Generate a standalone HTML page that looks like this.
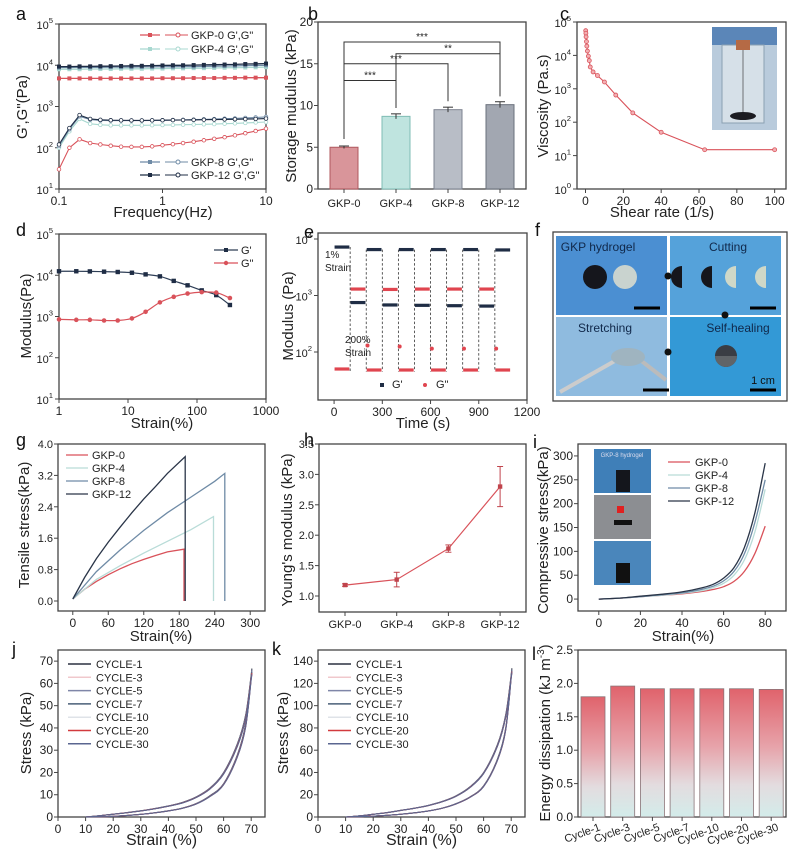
<!DOCTYPE html>
<html><head><meta charset="utf-8">
<style>
html,body{margin:0;padding:0;background:#fff;}
svg{display:block;font-family:"Liberation Sans",Arial,sans-serif;}
</style></head>
<body>
<svg id="fig" width="802" height="855" viewBox="0 0 802 855" xmlns="http://www.w3.org/2000/svg">
<defs>
<linearGradient id="lgrad" x1="0" y1="0" x2="0" y2="1">
<stop offset="0" stop-color="#e0636c"/><stop offset="0.45" stop-color="#e7a3aa"/><stop offset="0.75" stop-color="#e3dcdf"/><stop offset="1" stop-color="#d3ecea"/>
</linearGradient>
</defs>
</svg>
<script>
// ---------- DATA ----------
const aFreq=[0.1,0.126,0.158,0.2,0.251,0.316,0.398,0.501,0.631,0.794,1,1.26,1.58,2,2.51,3.16,3.98,5.01,6.31,7.94,10];
const aG0=[4800,4800,4800,4800,4800,4800,4800,4800,4800,4800,4850,4850,4850,4900,4900,4900,4950,4950,5000,5000,5000];
const aG4=[8000,8000,8000,8100,8100,8100,8200,8200,8200,8300,8300,8400,8400,8500,8500,8600,8700,8700,8800,8900,9000];
const aG8=[8800,8800,8900,8900,8900,9000,9000,9000,9100,9100,9200,9200,9300,9300,9400,9500,9600,9700,9800,9900,10000];
const aG12=[9300,9300,9400,9400,9500,9500,9600,9700,9700,9800,9900,10000,10000,10100,10200,10300,10400,10500,10700,10800,11000];
const aGG0=[30,100,160,130,120,112,106,105,105,108,115,122,130,140,152,165,180,200,225,255,290];
const aGG4=[100,250,500,380,360,350,350,350,350,352,355,358,362,366,370,375,382,390,400,410,420];
const aGG8=[110,280,580,480,460,455,455,455,455,458,462,468,474,480,488,496,505,515,528,542,560];
const aGG12=[120,300,620,500,475,465,462,460,460,462,465,468,470,474,478,482,486,490,495,500,510];
const bCats=["GKP-0","GKP-4","GKP-8","GKP-12"];
const bVals=[5.0,8.7,9.5,10.1];
const bErr=[0.15,0.3,0.3,0.35];
const cRate=[0.1,0.2,0.3,0.5,0.7,1,1.5,2,2.5,4,6.3,10,16,25,40,63,100];
const cVisc=[55000,46000,36000,26000,19000,13500,9500,7000,4500,3200,2500,1600,650,190,50,15,15];
const dStrain=[1,1.78,2.8,4.5,7.1,11.4,18,29,46,73,117,190,300];
const dG1=[12500,12500,12400,12200,12000,11500,10500,9400,7300,5700,4300,3300,1900];
const dG2=[850,830,830,800,800,900,1300,2200,3000,3600,3900,3800,2800];
const eStart=[0,100,200,300,400,500,600,700,800,900,1000];
const eGp=[7200,750,6500,680,6500,670,6500,660,6500,650,6400];
const eGpp=[50,1300,48,1280,48,1300,48,1300,48,1300,48];
const eSpike=[null,null,130,null,125,null,115,null,115,null,115];
const gS0=[0,20,40,60,80,100,120,140,160,188];
const gV0=[0.05,0.3,0.5,0.67,0.82,0.95,1.06,1.16,1.25,1.32];
const gS4=[0,40,80,120,160,200,238];
const gV4=[0.05,0.55,0.9,1.22,1.52,1.82,2.15];
const gS8=[0,40,80,120,160,200,240,257];
const gV8=[0.05,0.75,1.3,1.8,2.25,2.65,3.05,3.25];
const gS12=[0,20,40,60,80,100,120,140,160,190];
const gV12=[0.05,0.6,1.08,1.5,1.88,2.25,2.6,2.92,3.25,3.68];
const hCats=["GKP-0","GKP-4","GKP-8","GKP-12"];
const hVals=[1.18,1.27,1.78,2.8];
const hErr=[0.02,0.12,0.06,0.33];
const iStrain=[0,10,20,30,40,50,55,60,65,70,75,80];
const iV0=[0,2,5,8,11,16,20,26,37,58,95,153];
const iV4=[0,2,5,8,12,18,24,33,50,82,140,230];
const iV8=[0,2,5,9,13,21,27,38,58,95,160,250];
const iV12=[0,2,6,10,15,24,31,44,66,108,180,285];
const jStrain=[10,15,20,25,30,35,40,45,50,55,60,65,68,70];
const jLoad=[0,0.6,1.3,2.0,2.8,3.8,5,6.5,9,13,20,33,46,64];
const jUnload=[0,0.1,0.3,0.7,1.2,1.9,2.8,4,6,9.5,15,28,42,64];
const jPeak=[64,63.5,63,62.5,62,62,61.5];
const kLoad=[0,1,2.5,4,6,8,10.5,14,19,27,40,65,92,128];
const kUnload=[0,0.3,0.8,1.5,2.5,3.8,5.5,8,12,18,28,52,80,128];
const kPeak=[128,127,126.5,126,125.5,125,124.5];
const cycLabels=["CYCLE-1","CYCLE-3","CYCLE-5","CYCLE-7","CYCLE-10","CYCLE-20","CYCLE-30"];
const cycColors=["#2b3140","#f0c8cc","#7f86a8","#4a5f78","#dfe3e8","#d23a3e","#5a6690"];
const lCats=["Cycle-1","Cycle-3","Cycle-5","Cycle-7","Cycle-10","Cycle-20","Cycle-30"];
const lVals=[1.80,1.96,1.92,1.92,1.92,1.92,1.91];

// ---------- HELPERS ----------
const NS="http://www.w3.org/2000/svg";
const svg=document.getElementById('fig');
function el(tag,attrs,parent){const e=document.createElementNS(NS,tag);for(const k in attrs)e.setAttribute(k,attrs[k]);(parent||svg).appendChild(e);return e;}
function txt(s,x,y,size,anchor,parent,fill){const t=el('text',{x:x,y:y,'font-size':size,'text-anchor':anchor||'middle',fill:fill||'#222'},parent);t.textContent=s;return t;}
function lin(d0,d1,r0,r1){return v=>r0+(v-d0)/(d1-d0)*(r1-r0);}
function lg(d0,d1,r0,r1){const a=Math.log10(d0),b=Math.log10(d1);return v=>r0+(Math.log10(v)-a)/(b-a)*(r1-r0);}
function grp(name){const g=el('g',{});return g;}
function pow10(g,exp,x,y,size,anchor){const t=el('text',{x:x,y:y,'font-size':size,'text-anchor':anchor||'end',fill:'#222'},g);const a=el('tspan',{},t);a.textContent='10';const b=el('tspan',{dy:-6,'font-size':size*0.7},t);b.textContent=String(exp);return t;}
function frame(g,x0,y0,x1,y1){const r=el('rect',{x:x0,y:y0,width:x1-x0,height:y1-y0,fill:'none',stroke:'#444','stroke-width':1.3},g);}
function yTicks(g,ticks,sy,x0,labels,size,isLog){ticks.forEach((v,i)=>{const y=sy(v);el('line',{x1:x0-4,x2:x0,y1:y,y2:y,stroke:'#444','stroke-width':1},g);if(isLog){pow10(g,labels[i],x0-6,y+5,size);}else{const t=txt(labels[i],x0-5,y+4,size,'end',g);}});}
function xTicks(g,ticks,sx,y0,labels,size,isLog){ticks.forEach((v,i)=>{const x=sx(v);el('line',{x1:x,x2:x,y1:y0,y2:y0+4,stroke:'#444','stroke-width':1},g);if(isLog&&typeof labels[i]==='number'){pow10(g,labels[i],x,y0+17,size,'middle');}else{const t=txt(labels[i],x,y0+16,size,'middle',g);}});}
function poly(g,xs,ys,sx,sy,color,w,dash){const pts=xs.map((v,i)=>sx(v).toFixed(1)+','+sy(ys[i]).toFixed(1)).join(' ');const p=el('polyline',{points:pts,fill:'none',stroke:color,'stroke-width':w||1.2},g);if(dash)p.setAttribute('stroke-dasharray',dash);return p;}
function smooth(g,xs,ys,sx,sy,color,w){const P=xs.map((v,i)=>[sx(v),sy(ys[i])]);let d='M'+P[0][0].toFixed(1)+','+P[0][1].toFixed(1);for(let i=0;i<P.length-1;i++){const p0=P[Math.max(i-1,0)],p1=P[i],p2=P[i+1],p3=P[Math.min(i+2,P.length-1)];const c1=[p1[0]+(p2[0]-p0[0])/6,p1[1]+(p2[1]-p0[1])/6],c2=[p2[0]-(p3[0]-p1[0])/6,p2[1]-(p3[1]-p1[1])/6];d+=' C'+c1.map(v=>v.toFixed(1))+' '+c2.map(v=>v.toFixed(1))+' '+p2.map(v=>v.toFixed(1));}return el('path',{d:d,fill:'none',stroke:color,'stroke-width':w||1.3},g);}
function ytitle(g,s,x,y,size){const t=el('text',{x:x,y:y,'font-size':size,'text-anchor':'middle',fill:'#222',transform:'rotate(-90 '+x+' '+y+')'},g);t.textContent=s;return t;}
function xtitle(g,s,x,y,size){const t=txt(s,x,y,size,'middle',g);return t;}
function letter(s,x,y){const t=txt(s,x,y,18,'start',svg,'#111');}

// ---------- PANEL A ----------
(function(){const g=grp('panel-a-frequency-sweep');
const sx=lg(0.1,10,59,266),sy=lg(10,1e5,189,24);
frame(g,59,24,266,189);
yTicks(g,[10,100,1000,1e4,1e5],sy,59,[1,2,3,4,5],11,true);
xTicks(g,[0.1,1,10],sx,189,['0.1','1','10'],12);
const series=[[aG0,aGG0,'#d9525a'],[aG4,aGG4,'#a8d8d0'],[aG8,aGG8,'#6f8ba6'],[aG12,aGG12,'#1f2d45']];
series.forEach(s=>{poly(g,aFreq,s[0],sx,sy,s[2],1.3);poly(g,aFreq,s[1],sx,sy,s[2],1.1);
aFreq.forEach((f,i)=>{const m=el('rect',{x:sx(f)-2,y:sy(s[0][i])-2,width:4,height:4,fill:s[2]},g);
const c=el('circle',{cx:sx(f),cy:sy(s[1][i]),r:1.8,fill:'#fff',stroke:s[2],'stroke-width':0.8},g);});});
const leg=[['GKP-0 G\',G"','#d9525a',35],['GKP-4 G\',G"','#a8d8d0',49],['GKP-8 G\',G"','#6f8ba6',162],['GKP-12 G\',G"','#1f2d45',175]];
leg.forEach(l=>{const lg2=el('g',{},g);
el('line',{x1:140,x2:160,y1:l[2],y2:l[2],stroke:l[1],'stroke-width':1.3},lg2);el('rect',{x:148,y:l[2]-2,width:4,height:4,fill:l[1]},lg2);
el('line',{x1:165,x2:188,y1:l[2],y2:l[2],stroke:l[1],'stroke-width':1.1},lg2);el('circle',{cx:178,cy:l[2],r:2,fill:'#fff',stroke:l[1]},lg2);
txt(l[0],191,l[2]+4,11,'start',lg2);});
ytitle(g,'G\',G"(Pa)',27,107,15);xtitle(g,'Frequency(Hz)',163,217,15);})();
letter('a',16,20);

// ---------- PANEL B ----------
(function(){const g=grp('panel-b-storage-modulus');
const sy=lin(0,20,189,22);const bx=i=>344+i*52;
frame(g,318,22,526,189);
yTicks(g,[0,5,10,15,20],sy,318,['0','5','10','15','20'],12);
const cols=['#d9959a','#bfe4df','#b8bdc6','#a2a7b1'];const strokes=['#b0585e','#7fbcb4','#7d8390','#6a707c'];
bCats.forEach((c,i)=>{const b=el('rect',{x:bx(i)-14,y:sy(bVals[i]),width:28,height:sy(0)-sy(bVals[i]),fill:cols[i],stroke:strokes[i],'stroke-width':1},g);
el('line',{x1:bx(i),x2:bx(i),y1:sy(bVals[i]+bErr[i]),y2:sy(bVals[i]-bErr[i]),stroke:'#333'},g);
el('line',{x1:bx(i)-5,x2:bx(i)+5,y1:sy(bVals[i]+bErr[i]),y2:sy(bVals[i]+bErr[i]),stroke:'#333'},g);
el('line',{x1:bx(i),x2:bx(i),y1:189,y2:193,stroke:'#444'},g);
txt(c,bx(i),207,11,'middle',g);});
const br=[[0,1,13.0,'***'],[0,2,15.0,'***'],[1,3,16.2,'**'],[0,3,17.6,'***']];
br.forEach(b=>{const y=sy(b[2]);const bg=el('g',{},g);
el('polyline',{points:bx(b[0])+','+(sy(bVals[b[0]]+1)).toFixed(1)+' '+bx(b[0])+','+y.toFixed(1)+' '+bx(b[1])+','+y.toFixed(1)+' '+bx(b[1])+','+(sy(bVals[b[1]]+1)).toFixed(1),fill:'none',stroke:'#333','stroke-width':1},bg);
txt(b[3],(bx(b[0])+bx(b[1]))/2,y-2,10,'middle',bg);});
ytitle(g,'Storage mudulus (kPa)',296,106,15);})();
letter('b',308,20);

// ---------- PANEL C ----------
(function(){const g=grp('panel-c-viscosity');
const sx=lin(-4.5,106,577,786),sy=lg(1,1e5,189,22);
frame(g,577,22,786,189);
yTicks(g,[1,10,100,1000,1e4,1e5],sy,577,[0,1,2,3,4,5],11,true);
xTicks(g,[0,20,40,60,80,100],sx,189,['0','20','40','60','80','100'],12);
const ph=el('rect',{x:712,y:27,width:65,height:103,fill:'#b9cbdc'},g);
el('rect',{x:712,y:27,width:65,height:18,fill:'#5b86b8'},g);
el('rect',{x:722,y:45,width:42,height:78,fill:'#d6e0e8',stroke:'#8aa0b2'},g);
el('rect',{x:736,y:40,width:14,height:10,fill:'#b56a45'},g);
el('line',{x1:743,x2:743,y1:50,y2:114,stroke:'#555','stroke-width':0.8},g);
el('ellipse',{cx:743,cy:116,rx:13,ry:4,fill:'#1c1c22'},g);
poly(g,cRate,cVisc,sx,sy,'#d9525a',1.1);
cRate.forEach((r,i)=>{const c=el('circle',{cx:sx(r),cy:sy(cVisc[i]),r:2,fill:'#f3b0b4',stroke:'#d9525a','stroke-width':0.8},g);});
ytitle(g,'Viscosity (Pa.s)',548,106,15);xtitle(g,'Shear rate (1/s)',662,217,15);})();
letter('c',560,20);

// ---------- PANEL D ----------
(function(){const g=grp('panel-d-strain-sweep');
const sx=lg(1,1000,59,266),sy=lg(10,1e5,399,234);
frame(g,59,234,266,399);
yTicks(g,[10,100,1000,1e4,1e5],sy,59,[1,2,3,4,5],11,true);
xTicks(g,[1,10,100,1000],sx,399,['1','10','100','1000'],12);
smooth(g,dStrain,dG1,sx,sy,'#2d3d55',1.2);smooth(g,dStrain,dG2,sx,sy,'#d9525a',1.2);
dStrain.forEach((s,i)=>{const m=el('rect',{x:sx(s)-2.2,y:sy(dG1[i])-2.2,width:4.4,height:4.4,fill:'#1f2d45'},g);
const c=el('circle',{cx:sx(s),cy:sy(dG2[i]),r:2.3,fill:'#d9525a'},g);});
const l1=el('g',{},g);
el('line',{x1:214,x2:238,y1:250,y2:250,stroke:'#2d3d55','stroke-width':1.2},l1);el('rect',{x:224,y:248,width:4,height:4,fill:'#1f2d45'},l1);txt("G'",241,254,11,'start',l1);
const l2=el('g',{},g);
el('line',{x1:214,x2:238,y1:263,y2:263,stroke:'#d9525a','stroke-width':1.2},l2);el('circle',{cx:226,cy:263,r:2.2,fill:'#d9525a'},l2);txt('G"',241,267,11,'start',l2);
ytitle(g,'Modulus(Pa)',31,316,15);xtitle(g,'Strain(%)',162,428,15);})();
letter('d',16,236);

// ---------- PANEL E ----------
(function(){const g=grp('panel-e-step-strain');
const sx=lin(-100,1200,318,527),sy=lg(10,1e4,408.5,239);
frame(g,318,233,527,400);
yTicks(g,[100,1000,1e4],sy,318,[2,3,4],11,true);
xTicks(g,[0,300,600,900,1200],sx,400,['0','300','600','900','1200'],12);
eStart.forEach((t,i)=>{if(i>0){const d=el('line',{x1:sx(t),x2:sx(t),y1:sy(eGp[i-1]>eGp[i]?eGp[i-1]:eGp[i]),y2:sy(45),stroke:'#333','stroke-width':0.8,'stroke-dasharray':'2.5,2'},g);}
const s1=el('line',{x1:sx(t+3),x2:sx(t+95),y1:sy(eGp[i]),y2:sy(eGp[i]),stroke:'#1f2d45','stroke-width':3.2},g);
const s2=el('line',{x1:sx(t+3),x2:sx(t+95),y1:sy(eGpp[i]),y2:sy(eGpp[i]),stroke:'#e0454f','stroke-width':3.2},g);
if(eSpike[i]){const c=el('circle',{cx:sx(t+8),cy:sy(eSpike[i]),r:2,fill:'#e0454f'},g);}});
txt('1%',325,258,10,'start',g);txt('Strain',325,271,10,'start',g);
txt('200%',345,343,10,'start',g);txt('Strain',345,356,10,'start',g);
el('rect',{x:380,y:383,width:4,height:4,fill:'#1f2d45'},g);txt("G'",392,388,11,'start',g);
el('circle',{cx:425,cy:385,r:2,fill:'#e0454f'},g);txt('G"',436,388,11,'start',g);
ytitle(g,'Modulus (Pa)',293,316,15);xtitle(g,'Time (s)',423,428,15);})();
letter('e',304,238);

// ---------- PANEL F ----------
(function(){const g=grp('panel-f-self-healing-photos');
el('rect',{x:553,y:232,width:234,height:169,fill:'#fff',stroke:'#444','stroke-width':1.3},g);
const q=[[556,236,'#4b8fd2','GKP hydrogel',598],[670,236,'#55a2da','Cutting',728],[556,317,'#8fbbdf','Stretching',605],[670,317,'#3399d6','Self-healing',738]];
q.forEach(c=>{const r=el('rect',{x:c[0],y:c[1],width:111,height:79,fill:c[2]},g);txt(c[3],c[4],c[1]+15,12,'middle',g,'#10284a');});
el('circle',{cx:595,cy:277,r:12,fill:'#15161c'},g);el('circle',{cx:625,cy:277,r:12,fill:'#c9d3cf'},g);
el('path',{d:'M682,266 a11,11 0 0,0 0,22 z',fill:'#15161c'},g);el('path',{d:'M712,266 a11,11 0 0,0 0,22 z',fill:'#15161c'},g);
el('path',{d:'M736,266 a11,11 0 0,0 0,22 z',fill:'#cfd8c8'},g);el('path',{d:'M766,266 a11,11 0 0,0 0,22 z',fill:'#cfd8c8'},g);
el('line',{x1:560,x2:620,y1:392,y2:358,stroke:'#ccc','stroke-width':4},g);el('line',{x1:635,x2:666,y1:356,y2:380,stroke:'#bbb','stroke-width':4},g);
el('ellipse',{cx:628,cy:357,rx:17,ry:9,fill:'#9fb4c0'},g);
el('circle',{cx:726,cy:356,r:11,fill:'#3a3d44'},g);el('path',{d:'M715,356 a11,11 0 0,0 22,0 z',fill:'#606468'},g);
[[634,308],[750,308],[643,390],[750,390]].forEach(s=>{el('line',{x1:s[0],x2:s[0]+26,y1:s[1],y2:s[1],stroke:'#000','stroke-width':3},g);});
txt('1 cm',763,384,11,'middle',g,'#111');
[[668,276],[725,315],[668,352]].forEach(s=>{el('circle',{cx:s[0],cy:s[1],r:3.5,fill:'#111'},g);});})();
letter('f',535,236);

// ---------- PANEL G ----------
(function(){const g=grp('panel-g-tensile');
const sx=lin(-25,325,58,265),sy=lin(0,4.0,601,444);
frame(g,58,444,265,611);
yTicks(g,[0,0.8,1.6,2.4,3.2,4.0],sy,58,['0.0','0.8','1.6','2.4','3.2','4.0'],11);
xTicks(g,[0,60,120,180,240,300],sx,611,['0','60','120','180','240','300'],12);
const S=[[gS0,gV0,'#d9525a','GKP-0'],[gS4,gV4,'#b9dcd8','GKP-4'],[gS8,gV8,'#6f8ba6','GKP-8'],[gS12,gV12,'#2a3548','GKP-12']];
S.forEach((s,k)=>{const xs=s[0].concat([s[0][s[0].length-1]]),ys=s[1].concat([0]);const p=poly(g,xs,ys,sx,sy,s[2],1.3);
const ly=455+k*13;el('line',{x1:66,x2:88,y1:ly,y2:ly,stroke:s[2],'stroke-width':1.3},g);txt(s[3],92,ly+4,11,'start',g);});
ytitle(g,'Tensile stress(kPa)',29,525,15);xtitle(g,'Strain(%)',161,641,15);})();
letter('g',16,446);

// ---------- PANEL H ----------
(function(){const g=grp('panel-h-youngs-modulus');
const sy=lin(1.0,3.5,596,444);const hx=i=>345+i*51.7;
frame(g,319,444,526,612);
yTicks(g,[1.0,1.5,2.0,2.5,3.0,3.5],sy,319,['1.0','1.5','2.0','2.5','3.0','3.5'],11);
const pts=hVals.map((v,i)=>hx(i).toFixed(1)+','+sy(v).toFixed(1)).join(' ');
el('polyline',{points:pts,fill:'none',stroke:'#d9525a','stroke-width':1.2},g);
hCats.forEach((c,i)=>{const x=hx(i);el('line',{x1:x,x2:x,y1:sy(hVals[i]+hErr[i]),y2:sy(hVals[i]-hErr[i]),stroke:'#c0444c'},g);
el('line',{x1:x-3,x2:x+3,y1:sy(hVals[i]+hErr[i]),y2:sy(hVals[i]+hErr[i]),stroke:'#c0444c'},g);el('line',{x1:x-3,x2:x+3,y1:sy(hVals[i]-hErr[i]),y2:sy(hVals[i]-hErr[i]),stroke:'#c0444c'},g);
const m=el('rect',{x:x-2.2,y:sy(hVals[i])-2.2,width:4.4,height:4.4,fill:'#c0444c'},g);
el('line',{x1:x,x2:x,y1:612,y2:616,stroke:'#444'},g);txt(c,x,628,11,'middle',g);});
ytitle(g,"Young's modulus (kPa)",292,530,15);})();
letter('h',304,446);

// ---------- PANEL I ----------
(function(){const g=grp('panel-i-compressive');
const sx=lin(-10,90,578,786),sy=lin(-25,325,611,444);
frame(g,578,444,786,611);
yTicks(g,[0,50,100,150,200,250,300],sy,578,['0','50','100','150','200','250','300'],12);
xTicks(g,[0,20,40,60,80],sx,611,['0','20','40','60','80'],12);
const ins=[[594,449,'#3f7fb8'],[594,495,'#8c8e92'],[594,541,'#4a86bb']];
ins.forEach(r=>{const e=el('rect',{x:r[0],y:r[1],width:57,height:44,fill:r[2]},g);});
el('rect',{x:616,y:470,width:14,height:22,fill:'#14161c'},g);el('rect',{x:614,y:520,width:18,height:5,fill:'#111'},g);el('rect',{x:616,y:563,width:14,height:20,fill:'#111'},g);
el('rect',{x:617,y:506,width:7,height:7,fill:'#e02020'},g);
txt('GKP-8 hydrogel',622,457,6,'middle',g,'#dde');
const S=[[iV0,'#d9525a','GKP-0'],[iV4,'#b9dcd8','GKP-4'],[iV8,'#6f8ba6','GKP-8'],[iV12,'#2a3548','GKP-12']];
S.forEach((s,k)=>{const p=smooth(g,iStrain,s[0],sx,sy,s[1],1.3);
const ly=462+k*13;el('line',{x1:668,x2:690,y1:ly,y2:ly,stroke:s[1],'stroke-width':1.3},g);txt(s[2],695,ly+4,11,'start',g);});
ytitle(g,'Compressive stress(kPa)',548,530,15);xtitle(g,'Strain(%)',683,641,15);})();
letter('i',533,448);

// ---------- PANEL J / K ----------
function cyc(name,x0,x1,ymax,yTickV,load,unload,peak,ytitleX){const g=grp(name);
const sx=lin(0,75,x0,x1),sy=lin(0,ymax,817,650);
frame(g,x0,650,x1,817);
yTicks(g,yTickV,sy,x0,yTickV.map(String),12);
xTicks(g,[0,10,20,30,40,50,60,70],sx,817,['0','10','20','30','40','50','60','70'],12);
peak.forEach((pk,c)=>{const f=pk/peak[0];const ld=load.map(v=>v*f),ul=unload.map(v=>v*f);
const xs=jStrain.concat(jStrain.slice().reverse()),ys=ld.concat(ul.slice().reverse());
const p=smooth(g,xs,ys,sx,sy,cycColors[c]==='#dfe3e8'||cycColors[c]==='#f0c8cc'?'#6a7090':cycColors[c],1);
const ly=664+c*13.3;const lgE=el('g',{},g);
el('line',{x1:x0+10,x2:x0+33,y1:ly,y2:ly,stroke:cycColors[c],'stroke-width':1.5},lgE);txt(cycLabels[c],x0+38,ly+4,11,'start',lgE);});
ytitle(g,'Stress (kPa)',ytitleX,733,15);xtitle(g,'Strain (%)',(x0+x1)/2,845,16);}
cyc('panel-j-cyclic-compression',58,265,75,[0,10,20,30,40,50,60,70],jLoad,jUnload,jPeak,31);
cyc('panel-k-cyclic-compression',318,525,150,[0,20,40,60,80,100,120,140],kLoad,kUnload,kPeak,288);
letter('j',12,655);letter('k',272,655);

// ---------- PANEL L ----------
(function(){const g=grp('panel-l-energy-dissipation');
const sy=lin(0,2.5,817,650);const lx=i=>593+i*29.7;
frame(g,578,650,786,817);
yTicks(g,[0,0.5,1.0,1.5,2.0,2.5],sy,578,['0.0','0.5','1.0','1.5','2.0','2.5'],12);
lCats.forEach((c,i)=>{const b=el('rect',{x:lx(i)-12,y:sy(lVals[i]),width:24,height:sy(0)-sy(lVals[i]),fill:'url(#lgrad)',stroke:'#8a7478','stroke-width':0.8},g);
el('line',{x1:lx(i),x2:lx(i),y1:817,y2:821,stroke:'#444'},g);
const t=el('text',{x:lx(i)+8,y:830,'font-size':11,'text-anchor':'end',fill:'#222',transform:'rotate(-20 '+(lx(i)+8)+' 830)'},g);t.textContent=c;});
const yt=el('text',{x:550,y:733,'font-size':15,'text-anchor':'middle',fill:'#222',transform:'rotate(-90 550 733)'},g);
const a=el('tspan',{},yt);a.textContent='Energy dissipation (kJ m';const b=el('tspan',{dy:-6,'font-size':10},yt);b.textContent='-3';const c=el('tspan',{dy:6},yt);c.textContent=')';})();
letter('l',532,660);
</script>
</body></html>
